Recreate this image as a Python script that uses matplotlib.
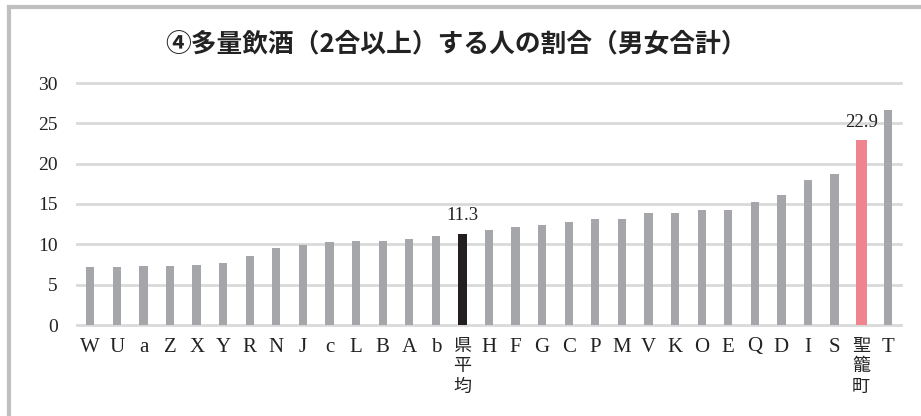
import matplotlib
matplotlib.use("Agg")
import matplotlib.pyplot as plt
from matplotlib.lines import Line2D

categories = ["W", "U", "a", "Z", "X", "Y", "R", "N", "J", "c", "L", "B", "A", "b",
              "県平均", "H", "F", "G", "C", "P", "M", "V", "K", "O", "E", "Q", "D",
              "I", "S", "聖籠町", "T"]
values = [7.2, 7.2, 7.3, 7.3, 7.4, 7.7, 8.5, 9.5, 9.9, 10.3, 10.4, 10.4, 10.6, 11.0,
          11.3, 11.8, 12.2, 12.4, 12.8, 13.1, 13.1, 13.9, 13.9, 14.2, 14.3, 15.2, 16.1,
          18.0, 18.7, 22.9, 26.7]
title = "④多量飲酒（2合以上）する人の割合（男女合計）"
yticks = [0, 5, 10, 15, 20, 25, 30]
labelled = {"県平均": "11.3", "聖籠町": "22.9"}

GRAY = "#A5A6A9"
BLACK = "#231F20"
PINK = "#F0848E"
GRID = "#D9D9D9"

serif = ["Liberation Serif", "Noto Sans CJK JP"]

fig = plt.figure(figsize=(9.21, 4.16), dpi=100)
W, H = 921, 416
ax = fig.add_axes([77 / W, 1 - 325 / H, (901 - 77) / W, (325 - 83) / H])

colors, widths = [], []
for c in categories:
    if c == "県平均":
        colors.append(BLACK); widths.append(0.36)
    elif c == "聖籠町":
        colors.append(PINK); widths.append(0.41)
    else:
        colors.append(GRAY); widths.append(0.31)

x = list(range(len(categories)))
ax.bar(x, values, width=widths, color=colors, zorder=3)

for i, (c, v) in enumerate(zip(categories, values)):
    if c in labelled:
        ax.annotate(labelled[c], (i, v), xytext=(0, 7), textcoords="offset points",
                    ha="center", va="bottom", fontsize=13.5, family=serif, color="#222222")

ax.set_xlim(-0.5, len(categories) - 0.5)
ax.set_ylim(0, 30)
ax.set_yticks(yticks)
ax.set_yticklabels([str(t) for t in yticks], family=serif, fontsize=14, color="#222222")
ax.set_xticks(x)
ax.set_xticklabels(["\n".join(c) if len(c) > 1 else c for c in categories],
                   family=serif, fontsize=15, color="#222222")
for lbl, c in zip(ax.get_xticklabels(), categories):
    if len(c) > 1:
        lbl.set_fontsize(13)
        lbl.set_linespacing(1.28)
ax.tick_params(axis="both", length=0)
ax.tick_params(axis="y", pad=14)
ax.tick_params(axis="x", pad=9)
for s in ax.spines.values():
    s.set_visible(False)
ax.yaxis.grid(True, color=GRID, linewidth=2, zorder=0)
ax.set_axisbelow(True)
for gl in ax.get_ygridlines():
    gl.set_clip_on(False)

fig.text(456 / W, 1 - 44 / H, title, ha="center", va="center", fontsize=18.5,
         fontweight="bold", family=["Noto Sans CJK JP", "DejaVu Sans"], color="#222222")

# chart frame (top and left edges visible)
fig.add_artist(Line2D([9 / W, 1.0], [1 - 7 / H, 1 - 7 / H], transform=fig.transFigure,
                      color="#BFBFBF", linewidth=3))
fig.add_artist(Line2D([9 / W, 9 / W], [0, 1 - 7 / H], transform=fig.transFigure,
                      color="#BFBFBF", linewidth=3))

fig.savefig("out.png", dpi=100)
